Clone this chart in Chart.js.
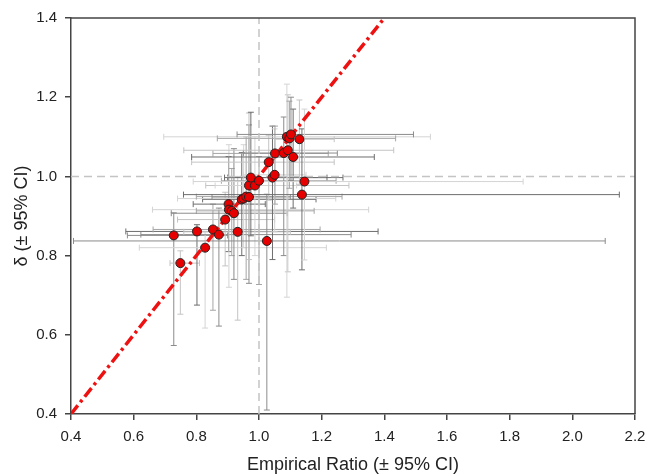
<!DOCTYPE html>
<html>
<head>
<meta charset="utf-8">
<script src="https://cdn.jsdelivr.net/npm/chart.js@4"></script>
<style>
    html, body { margin: 0; padding: 0; background: #fff; }
    #wrap { width: 645px; height: 476px; }
</style>
</head>
<body>
<div id="wrap"><canvas id="chart" width="645" height="476"></canvas></div>
<script>
// Empirical ratio (x) and delta (y), each with its 95% CI
const ratio   = [0.728, 0.749, 0.802, 0.828, 0.853, 0.872, 0.892, 0.903, 0.904, 0.913, 0.920, 0.932, 0.945, 0.951, 0.959, 0.968, 0.968, 0.974, 0.987, 1.000, 1.025, 1.031, 1.043, 1.050, 1.051, 1.079, 1.092, 1.109, 1.089, 1.097, 1.102, 1.129, 1.137, 1.145];
const ratioLo = [0.580, 0.716, 0.575, 0.618, 0.662, 0.623, 0.740, 0.790, 0.660, 0.800, 0.720, 0.760, 0.820, 0.740, 0.800, 0.850, 0.830, 0.900, 0.860, 0.880, 0.408, 0.785, 0.890, 0.950, 0.853, 0.950, 0.760, 0.785, 0.696, 0.867, 0.930, 1.050, 0.759, 0.790];
const ratioHi = [0.900, 0.810, 1.380, 1.215, 1.195, 1.294, 1.050, 1.020, 1.350, 1.176, 1.090, 1.100, 1.182, 1.245, 1.265, 1.100, 1.287, 1.217, 1.120, 1.246, 2.105, 1.240, 1.268, 1.150, 1.221, 1.250, 1.430, 1.368, 1.547, 1.436, 1.493, 1.240, 2.150, 1.843];
const delta   = [0.851, 0.781, 0.861, 0.820, 0.866, 0.853, 0.891, 0.930, 0.916, 0.913, 0.907, 0.860, 0.942, 0.944, 0.949, 0.948, 0.977, 0.997, 0.977, 0.989, 0.837, 1.036, 0.997, 1.004, 1.058, 1.059, 1.066, 1.049, 1.100, 1.096, 1.106, 1.094, 0.954, 0.987];
const deltaLo = [0.573, 0.652, 0.675, 0.617, 0.662, 0.622, 0.774, 0.810, 0.720, 0.800, 0.740, 0.637, 0.800, 0.820, 0.740, 0.730, 0.790, 0.850, 0.800, 0.727, 0.410, 0.940, 0.790, 0.860, 0.930, 0.800, 0.759, 0.920, 0.695, 0.970, 0.990, 0.980, 0.764, 0.789];
const deltaHi = [0.908, 0.812, 0.878, 0.860, 0.930, 0.920, 0.960, 1.050, 1.080, 1.020, 1.070, 1.000, 1.060, 1.080, 1.100, 1.130, 1.160, 1.162, 1.100, 1.050, 0.955, 1.104, 1.127, 1.120, 1.127, 1.150, 1.206, 1.170, 1.233, 1.190, 1.200, 1.193, 1.120, 1.170];

const identityLine = [0.4, 1.4];
const refValue = 1.0;
const xTicks = [0.4, 2.2];
const yTicks = [0.4, 1.4];

// greys cycled over the error bars
const barGreys = ['#8c8c8c', '#c4c4c4', '#6e6e6e', '#d4d4d4', '#a6a6a6'];

const errorBars = {
    id: 'errorBars',
    beforeDatasetsDraw(chart) {
        const { ctx, chartArea, scales: { x, y } } = chart;
        const cap = 3;
        ctx.save();
        ctx.beginPath();
        ctx.rect(chartArea.left, chartArea.top, chartArea.right - chartArea.left, chartArea.bottom - chartArea.top);
        ctx.clip();
        ctx.lineWidth = 1;
        ratio.forEach((r, i) => {
            const px = x.getPixelForValue(r);
            const py = y.getPixelForValue(delta[i]);
            const x0 = x.getPixelForValue(ratioLo[i]);
            const x1 = x.getPixelForValue(ratioHi[i]);
            const y0 = y.getPixelForValue(deltaLo[i]);
            const y1 = y.getPixelForValue(deltaHi[i]);
            ctx.strokeStyle = barGreys[i % barGreys.length];
            ctx.beginPath();
            ctx.moveTo(x0, py); ctx.lineTo(x1, py);
            ctx.moveTo(x0, py - cap); ctx.lineTo(x0, py + cap);
            ctx.moveTo(x1, py - cap); ctx.lineTo(x1, py + cap);
            ctx.moveTo(px, y0); ctx.lineTo(px, y1);
            ctx.moveTo(px - cap, y0); ctx.lineTo(px + cap, y0);
            ctx.moveTo(px - cap, y1); ctx.lineTo(px + cap, y1);
            ctx.stroke();
        });
        ctx.restore();
    }
};

const frameBox = {
    id: 'frameBox',
    afterDraw(chart) {
        const { ctx, chartArea: a } = chart;
        ctx.save();
        ctx.strokeStyle = '#444';
        ctx.lineWidth = 1.5;
        ctx.beginPath();
        ctx.moveTo(a.left, a.top);
        ctx.lineTo(a.right, a.top);
        ctx.lineTo(a.right, a.bottom);
        ctx.stroke();
        ctx.restore();
    }
};

const fontFamily = '"Liberation Sans", Arial, sans-serif';
const tickFont = { family: fontFamily, size: 15 };
const titleFont = { family: fontFamily, size: 18 };

new Chart(document.getElementById('chart'), {
    type: 'scatter',
    data: {
        datasets: [
            {
                data: ratio.map((r, i) => ({ x: r, y: delta[i] })),
                backgroundColor: '#e60000',
                borderColor: '#222',
                borderWidth: 1,
                pointRadius: 4.5
            },
            {
                type: 'line',
                data: identityLine.map(v => ({ x: v, y: v })),
                borderColor: '#ee1111',
                borderWidth: 3.5,
                borderDash: [11, 4, 3, 4],
                pointRadius: 0,
                fill: false
            },
            {
                type: 'line',
                data: [{ x: refValue, y: yTicks[0] }, { x: refValue, y: yTicks[1] }],
                borderColor: '#c4c4c4',
                borderWidth: 1.5,
                borderDash: [8, 5],
                pointRadius: 0
            },
            {
                type: 'line',
                data: [{ x: xTicks[0], y: refValue }, { x: xTicks[1], y: refValue }],
                borderColor: '#c4c4c4',
                borderWidth: 1.5,
                borderDash: [8, 5],
                pointRadius: 0
            }
        ]
    },
    options: {
        responsive: false,
        animation: false,
        layout: { padding: { top: 18, right: 10, left: 0, bottom: 0 } },
        plugins: {
            legend: { display: false },
            tooltip: { enabled: false }
        },
        scales: {
            x: {
                type: 'linear',
                min: xTicks[0],
                max: xTicks[1],
                afterFit: s => {
                    s.height = 62;
                    s.paddingLeft = 0;
                    s.paddingRight = 0;
                },
                ticks: {
                    stepSize: 0.2,
                    padding: 8,
                    color: '#222',
                    font: tickFont,
                    callback: v => v.toFixed(1)
                },
                grid: { drawOnChartArea: false, drawTicks: true, tickLength: 6, color: '#444', lineWidth: 1.5 },
                border: { display: true, color: '#444', width: 1.5 },
                title: {
                    display: true,
                    text: 'Empirical Ratio (± 95% CI)',
                    color: '#222',
                    font: titleFont,
                    padding: { top: 0, bottom: 0 }
                }
            },
            y: {
                type: 'linear',
                min: yTicks[0],
                max: yTicks[1],
                afterFit: s => {
                    s.width = 71;
                    s.paddingTop = 0;
                    s.paddingBottom = 0;
                },
                ticks: {
                    stepSize: 0.2,
                    padding: 8,
                    color: '#222',
                    font: tickFont,
                    callback: v => v.toFixed(1)
                },
                grid: { drawOnChartArea: false, drawTicks: true, tickLength: 6, color: '#444', lineWidth: 1.5 },
                border: { display: true, color: '#444', width: 1.5 },
                title: {
                    display: true,
                    text: 'δ (± 95% CI)',
                    color: '#222',
                    font: titleFont,
                    padding: { top: 11, bottom: 0 }
                }
            }
        }
    },
    plugins: [errorBars, frameBox]
});
</script>
</body>
</html>
